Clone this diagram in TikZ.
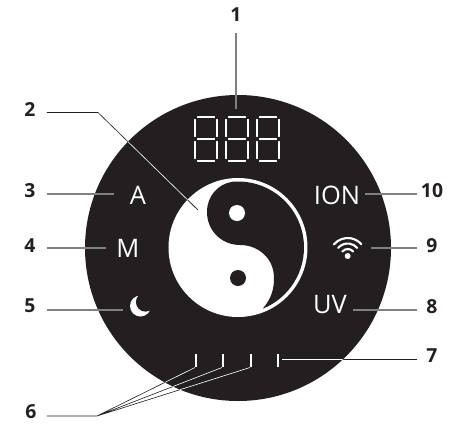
\documentclass[tikz,border=0pt]{standalone}
\usepackage{fontspec}
\setmainfont{Open Sans}
\definecolor{panel}{HTML}{231F20}
\tikzset{
  num/.style={font=\bfseries\fontsize{11}{11}\selectfont, text=panel, inner sep=0pt},
  sign/.style={font=\fontsize{14.5}{14.5}\selectfont, text=white, inner sep=0pt},
  leader/.style={draw=black!50, line width=0.6pt},
  thinleader/.style={draw=panel, line width=0.35pt},
  seg/.style={draw=white, line width=0.7pt, line cap=round},
}
\begin{document}
\begin{tikzpicture}[x=0.02cm, y=-0.02cm]
    \useasboundingbox (0,0) rectangle (461,424);

    % panel
    \fill[panel] (238,248) circle (153);

    % yin yang
    \fill[white] (238,247.5) circle (69.5);
    \fill[panel] ([shift={(-95:66)}]238,247.5) arc[start angle=-95, end angle=68, radius=66]
      .. controls (272,298) and (274,288) .. (274,278)
      .. controls (274,258) and (258,245) .. (240,245)
      .. controls (222,245) and (207,231) .. (207,212)
      .. controls (207,196) and (218,184) .. (232.2,181.8) -- cycle;
    \fill[white] (237,213) circle (8);
    \fill[panel] (238,278) circle (8);

    % display 888
    \foreach \dx in {195,226,257}{
      \foreach \dy in {117,139,161}
        \draw[seg] (\dx+2.5,\dy) -- (\dx+19.5,\dy);
      \foreach \sx in {0,22}{
        \draw[seg] (\dx+\sx,119.5) -- (\dx+\sx,136.5);
        \draw[seg] (\dx+\sx,141.5) -- (\dx+\sx,158.5);
      }
    }

    % signs
    \node[sign] (signA) at (138,195) {A};
    \node[sign] (signM) at (128,248) {M};
    \node[sign] (signION) at (337,195) {ION};
    \node[sign] (signUV) at (330,305) {UV};

    % moon
    \fill[white] (140.5,306) circle (10.5);
    \fill[panel] (145.5,302) circle (9.6);

    % wifi
    \fill[white] (347.7,256) circle (3);
    \foreach \r in {7,12.5,18}
      \draw[white, line width=1.2pt, line cap=round] ([shift={(220:\r)}]347.7,256) arc[start angle=220, end angle=320, radius=\r];

    % ticks
    \foreach \x in {196,223,251,278}
      \draw[white, line width=1.1pt] (\x,354) -- (\x,367);

    % numbers
    \node[num] (n1) at (236,15) {1};
    \node[num] (n2) at (30,109) {2};
    \node[num] (n3) at (30,191) {3};
    \node[num] (n4) at (30,246) {4};
    \node[num] (n5) at (30,306) {5};
    \node[num] (n6) at (31,412) {6};
    \node[num] (n7) at (432,356) {7};
    \node[num] (n8) at (432,307) {8};
    \node[num] (n9) at (432,246) {9};
    \node[num] (n10) at (432,191) {10};

    % free ends
    \coordinate (a1) at (236,33);   \coordinate (b1) at (236,109);
    \coordinate (a2) at (47,112.5); \coordinate (k2) at (98,112.5); \coordinate (b2) at (198,210);
    \coordinate (a3) at (47,194);   \coordinate (b3) at (114,194);
    \coordinate (a4) at (47,248);   \coordinate (b4) at (106,248);
    \coordinate (a5) at (47,310);   \coordinate (b5) at (123,310);
    \coordinate (a6) at (47,416);   \coordinate (k6) at (97,416);
    \coordinate (t1) at (195,367.5); \coordinate (t2) at (222,367.5); \coordinate (t3) at (250,367.5);
    \coordinate (a7) at (417,359);  \coordinate (b7) at (282,359);
    \coordinate (a8) at (417,310);  \coordinate (b8) at (353,310);
    \coordinate (a9) at (417,248);  \coordinate (b9) at (371,248);
    \coordinate (a10) at (417,194); \coordinate (b10) at (365,194);

    % leaders
    \draw[leader] (a1) -- (b1);
    \draw[leader] (a3) -- (b3);
    \draw[leader] (a4) -- (b4);
    \draw[leader] (a5) -- (b5);
    \draw[leader] (a8) -- (b8);
    \draw[leader] (a9) -- (b9);
    \draw[leader] (a10) -- (b10);
    \draw[thinleader] (a2) -- (k2) -- (b2);
    \draw[thinleader] (a6) -- (k6) -- (t1) (k6) -- (t2) (k6) -- (t3);
    \draw[thinleader] (a7) -- (b7);

    % same leaders, white inside the panel
    \begin{scope}
      \clip (238,248) circle (153);
      \draw[thinleader, draw=white] (k2) -- (b2);
      \draw[thinleader, draw=white] (k6) -- (t1) (k6) -- (t2) (k6) -- (t3);
      \draw[thinleader, draw=white] (a7) -- (b7);
    \end{scope}
    % and dark again on the white disc
    \begin{scope}
      \clip (238,247.5) circle (69.5);
      \draw[thinleader] (k2) -- (b2);
    \end{scope}
\end{tikzpicture}
\end{document}
